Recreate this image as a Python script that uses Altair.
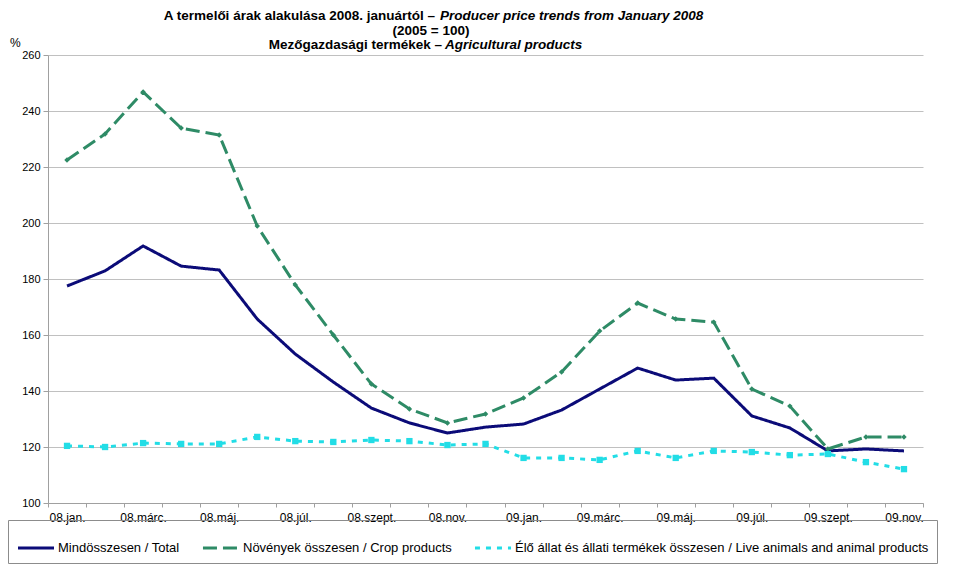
import altair as alt
import pandas as pd

months = ["08.jan.", "08.febr.", "08.márc.", "08.ápr.", "08.máj.", "08.jún.", "08.júl.", "08.aug.",
          "08.szept.", "08.okt.", "08.nov.", "08.dec.", "09.jan.", "09.febr.", "09.márc.", "09.ápr.",
          "09.máj.", "09.jún.", "09.júl.", "09.aug.", "09.szept.", "09.okt.", "09.nov."]
total = [177.5, 182.9, 191.8, 184.6, 183.2, 165.7, 153.2, 143.2, 133.9, 128.6, 125.0, 127.1,
         128.2, 133.2, 140.7, 148.2, 143.9, 144.6, 131.1, 126.8, 118.6, 119.3, 118.6]
crop = [222.5, 231.8, 246.8, 233.9, 231.4, 198.9, 177.9, 160.0, 142.5, 133.6, 128.6, 131.8,
        137.5, 146.8, 161.4, 171.4, 165.7, 164.6, 140.7, 134.6, 119.3, 123.6, 123.6]
live = [120.4, 120.0, 121.4, 121.1, 121.1, 123.6, 122.1, 121.8, 122.5, 122.1, 120.7, 121.1,
        116.1, 116.1, 115.4, 118.6, 116.1, 118.6, 118.2, 117.1, 117.5, 114.6, 112.1]
series_names = ["Mindösszesen / Total",
                "Növények összesen / Crop products",
                "Élő állat és állati termékek összesen / Live animals and animal products"]

rows = []
for name, vals in zip(series_names, [total, crop, live]):
    for m, v in zip(months, vals):
        rows.append({"month": m, "value": v, "series": name})
df = pd.DataFrame(rows)

F = "Liberation Sans, Arial, sans-serif"
NAVY = "#0b0b78"
GREEN = "#2e8b66"
CYAN = "#22dde6"

legend_props = dict(title=None, orient="none", legendX=-40, legendY=465, direction="horizontal",
                    symbolType="stroke", symbolSize=1300, symbolStrokeWidth=3,
                    labelFont=F, labelFontSize=13, labelColor="#000", labelLimit=600,
                    labelOffset=2, columnPadding=16, padding=8, strokeColor="#8c8c8c")

x_enc = alt.X("month:N", sort=months, bandPosition=0.5,
              scale=alt.Scale(type="band", paddingInner=0, paddingOuter=0),
              axis=alt.Axis(title=None, labelAngle=0, tickBand="extent", grid=False,
                            labelExpr="test(/febr|ápr|jún|aug|okt|dec/, datum.label) ? '' : datum.label",
                            labelFont=F, labelFontSize=12, labelColor="#000", labelPadding=5,
                            tickSize=4, tickColor="#a0a0a0", domainColor="#a0a0a0"))
y_enc = alt.Y("value:Q", scale=alt.Scale(domain=[100, 260], nice=False, zero=False),
              axis=alt.Axis(title=None, values=list(range(100, 261, 20)), tickSize=5,
                            labelFont=F, labelFontSize=11, labelColor="#000", labelPadding=3,
                            grid=True, gridColor="#c0c0c0", tickColor="#a0a0a0",
                            domainColor="#a0a0a0"))

base = alt.Chart(df)
lines = base.mark_line(strokeWidth=3).encode(
    x=x_enc, y=y_enc,
    color=alt.Color("series:N", sort=series_names,
                    scale=alt.Scale(domain=series_names, range=[NAVY, GREEN, CYAN]),
                    legend=alt.Legend(**legend_props)),
    strokeDash=alt.StrokeDash("series:N", sort=series_names,
                              scale=alt.Scale(domain=series_names, range=[[1, 0], [14, 6], [5, 6]]),
                              legend=alt.Legend(**legend_props)),
)
crop_pts = base.transform_filter(alt.datum.series == series_names[1]).mark_point(
    filled=True, shape="diamond", size=30, opacity=1, color=GREEN).encode(x=x_enc, y=y_enc)
live_pts = base.transform_filter(alt.datum.series == series_names[2]).mark_point(
    filled=True, shape="square", size=40, opacity=1, color=CYAN).encode(x=x_enc, y=y_enc)

one = alt.Data(values=[{}])
def txt(t, x, y, align="left", italic=False, size=13.5, bold=True):
    kw = dict(text=t, align=align, baseline="alphabetic", font=F, fontSize=size, color="#000")
    if bold:
        kw["fontWeight"] = "bold"
    if italic:
        kw["fontStyle"] = "italic"
    return alt.Chart(one).mark_text(**kw).encode(x=alt.value(x), y=alt.value(y))

texts = [
    txt("A termelői árak alakulása 2008. januártól –", 387, -35, align="right"),
    txt("Producer price trends from January 2008", 392, -35, italic=True),
    txt("(2005 = 100)", 383, -20.5, align="center"),
    txt("Mezőgazdasági termékek –", 394, -6, align="right"),
    txt("Agricultural products", 397, -6, italic=True),
    txt("%", -38, -8, bold=False, size=12),
]

chart = alt.layer(lines, crop_pts, live_pts, *texts).properties(
    width=875, height=448,
    padding={"left": 40, "top": 47, "right": 25, "bottom": 62},
    autosize=alt.AutoSizeParams(type="none"),
).configure_view(stroke=None)

chart.save("out.html", embed_options={"renderer": "svg", "actions": False})
